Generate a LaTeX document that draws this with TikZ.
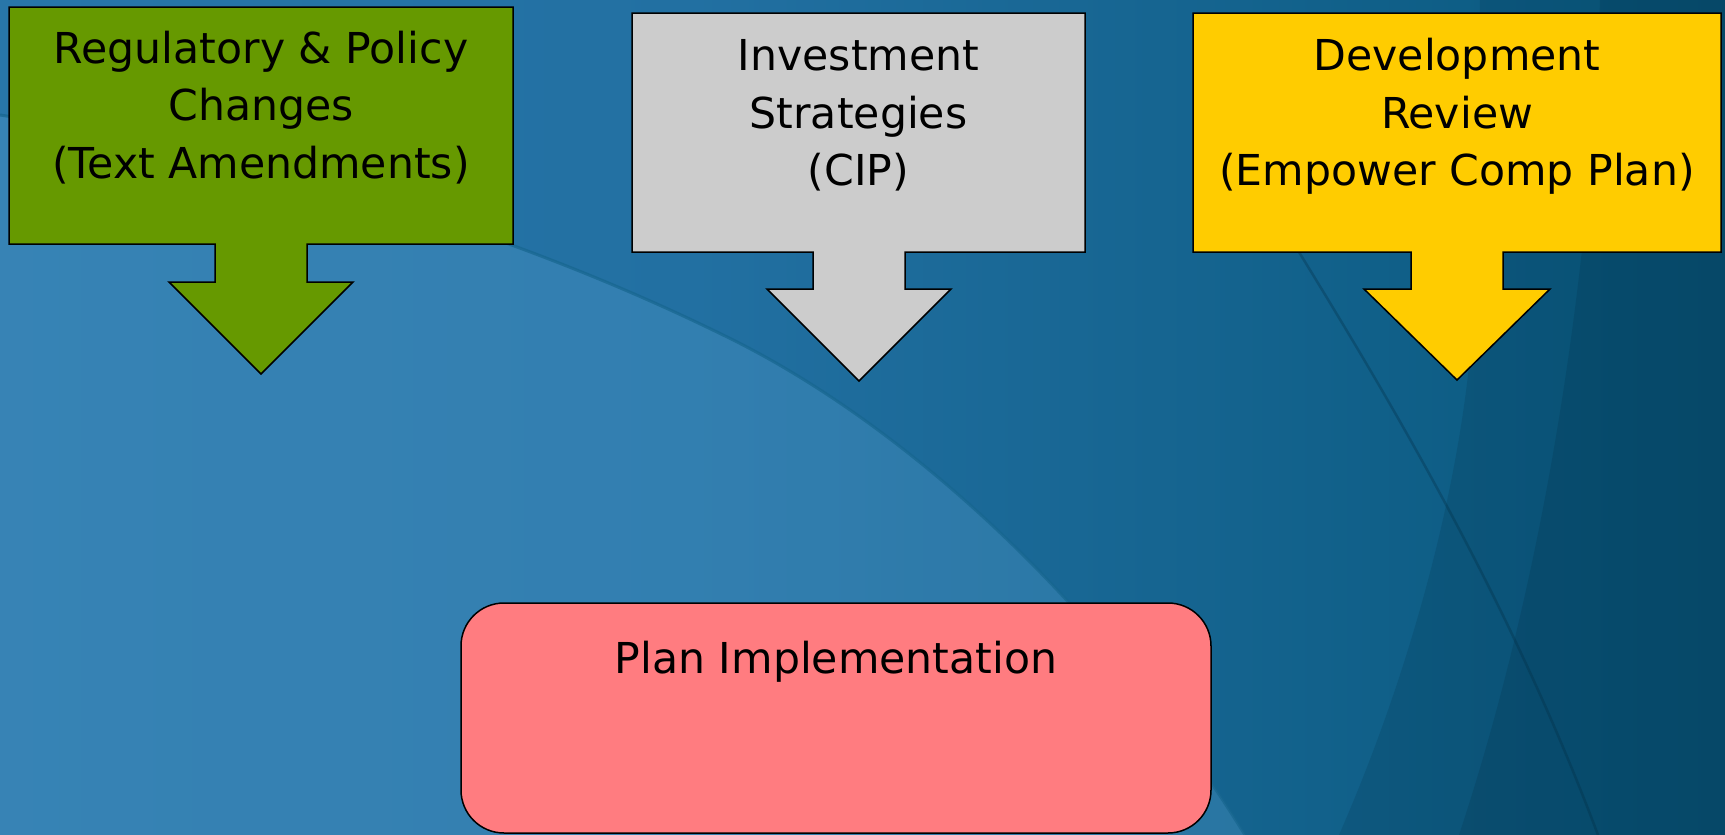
\documentclass[tikz,border=0pt]{standalone}
\usepackage{fontspec}
\setmainfont{DejaVu Sans}
\definecolor{bgA}{HTML}{2F7EB2}
\definecolor{bgB}{HTML}{2270A2}
\definecolor{bgC}{HTML}{0A5A80}
\definecolor{bgD}{HTML}{043A55}
\definecolor{lightbg}{HTML}{5AA2D2}
\definecolor{arcline}{HTML}{17668F}
\definecolor{darkband}{HTML}{022A40}
\definecolor{greenbox}{HTML}{669900}
\definecolor{graybox}{HTML}{CCCCCC}
\definecolor{yellowbox}{HTML}{FFCC00}
\definecolor{pinkbox}{HTML}{FF7C80}
\pgfdeclarehorizontalshading{bgshade}{100bp}{color(0bp)=(bgA); color(45bp)=(bgB); color(72bp)=(bgC); color(100bp)=(bgD)}
\tikzset{
  callout/.style={draw=black, line width=1.5pt, line join=miter},
  lbl/.style={anchor=base, inner sep=0pt, font=\fontsize{42.6}{57.5}\selectfont, text=black},
}
\begin{document}
\begin{tikzpicture}[x=1pt,y=-1pt]
\useasboundingbox (0,0) rectangle (1725,835);
% background
\shade[shading=bgshade] (0,0) rectangle (1725,835);
\fill[lightbg, opacity=0.30] (0,115) .. controls (300,160) and (550,250) .. (721,334)
   .. controls (900,420) and (1100,600) .. (1245,835) -- (0,835) -- cycle;
\draw[arcline, line width=3pt, opacity=0.7] (0,115) .. controls (300,160) and (550,250) .. (721,334)
   .. controls (900,420) and (1100,600) .. (1245,835);
\fill[darkband, opacity=0.16] (1480,0) -- (1474,300) .. controls (1468,450) and (1420,650) .. (1339,835) -- (1725,835) -- (1725,0) -- cycle;
\fill[darkband, opacity=0.18] (1600,0) .. controls (1592,250) and (1550,560) .. (1459,835) -- (1725,835) -- (1725,0) -- cycle;
\draw[darkband, line width=2.5pt, opacity=0.30] (1200,90) .. controls (1300,260) and (1480,520) .. (1598,835);
% callouts
\fill[greenbox] (9,7) -- (513,7) -- (513,244) -- (307,244) -- (307,282) -- (353,282) -- (261,374)
  -- (169,282) -- (215,282) -- (215,244) -- (9,244) -- cycle;
\draw[callout] (9,7) -- (513,7) -- (513,244) -- (307,244) -- (307,282) -- (353,282) -- (261,374)
  -- (169,282) -- (215,282) -- (215,244) -- (9,244) -- cycle;
\draw[callout, fill=graybox] (632,13) -- (1085,13) -- (1085,252) -- (905,252) -- (905,289) -- (951,289) -- (859,381)
  -- (767,289) -- (813,289) -- (813,252) -- (632,252) -- cycle;
\draw[callout, fill=yellowbox] (1193,13) -- (1721,13) -- (1721,252) -- (1503,252) -- (1503,289) -- (1550,289) -- (1457,380)
  -- (1364,289) -- (1411,289) -- (1411,252) -- (1193,252) -- cycle;
% texts
\node[lbl] (g1) at (261,63) {Regulatory \& Policy};
\node[lbl] (g2) at (261,120.5) {Changes};
\node[lbl] (g3) at (261,178) {(Text Amendments)};
\node[lbl] (s1) at (858.5,70.5) {Investment};
\node[lbl] (s2) at (858.5,128) {Strategies};
\node[lbl] (s3) at (858.5,185.5) {(CIP)};
\node[lbl] (d1) at (1457,70.5) {Development};
\node[lbl] (d2) at (1457,128) {Review};
\node[lbl] (d3) at (1457,185.5) {(Empower Comp Plan)};
% plan implementation
\draw[callout, fill=pinkbox, rounded corners=43pt] (461,603) rectangle (1211,833);
\node[lbl] (impl) at (836,673) {Plan Implementation};
\end{tikzpicture}
\end{document}
